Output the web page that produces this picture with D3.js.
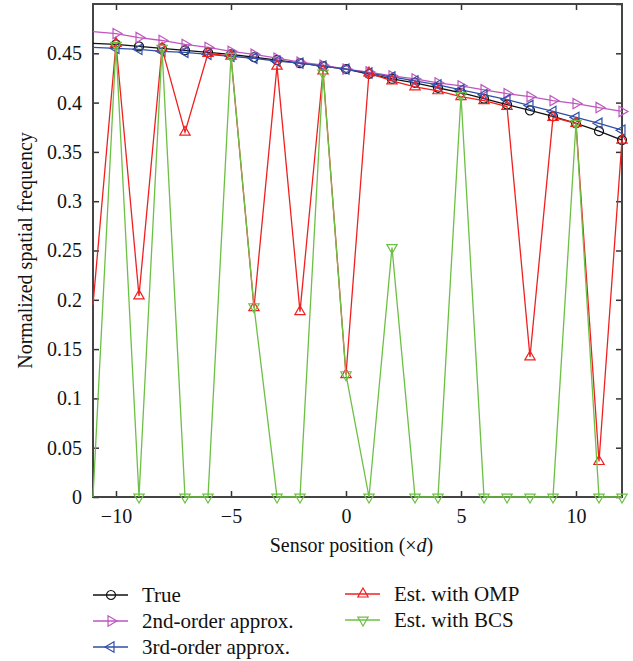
<!DOCTYPE html>
<html>
<head>
<meta charset="utf-8">
<script src="https://cdn.jsdelivr.net/npm/d3@7"></script>
<style>
  body { margin: 0; background: #fff; }
  svg text { font-family: "Liberation Serif", "DejaVu Serif", serif; fill: #111; }
</style>
</head>
<body>
<div id="chart"></div>
<script>
// sensor positions (x d)
var positions = [-11,-10,-9,-8,-7,-6,-5,-4,-3,-2,-1,0,1,2,3,4,5,6,7,8,9,10,11,12];

// normalized spatial frequency
var trueFreq = [0.460,0.459,0.457,0.455,0.453,0.451,0.449,0.446,0.443,0.440,0.437,0.434,0.429,0.424,0.420,0.415,0.410,0.404,0.398,0.392,0.386,0.379,0.371,0.362];
var secondOrder = [0.472,0.470,0.466,0.463,0.459,0.456,0.452,0.449,0.445,0.441,0.438,0.434,0.431,0.427,0.424,0.420,0.417,0.413,0.409,0.406,0.402,0.399,0.395,0.391];
var thirdOrder = [0.456,0.455,0.454,0.452,0.451,0.449,0.447,0.445,0.442,0.440,0.437,0.434,0.430,0.426,0.422,0.418,0.413,0.408,0.403,0.397,0.391,0.385,0.379,0.372];
var estOMP = [0.195,0.460,0.204,0.455,0.370,0.450,0.447,0.192,0.437,0.188,0.432,0.124,0.430,0.422,0.416,0.412,0.406,0.402,0.396,0.142,0.385,0.379,0.036,0.362];
var estBCS = [0,0.458,0,0.455,0,0,0.447,0.193,0,0,0.430,0.124,0,0.253,0,0,0.407,0,0,0,0,0.379,0,0];

var xTicks = [-10,-5,0,5,10];
var yTicks = [0,0.05,0.1,0.15,0.2,0.25,0.3,0.35,0.4,0.45,0.5];

var seriesNames = ["True","2nd-order approx.","3rd-order approx.","Est. with OMP","Est. with BCS"];
var seriesColors = ["#111111","#bf55bf","#2f4fa8","#f02020","#6cc044"];
var seriesMarkers = ["circle","right","left","up","down"];
var seriesValues = [trueFreq, secondOrder, thirdOrder, estOMP, estBCS];

var width = 633, height = 661;
var plotLeft = 93, plotRight = 622, plotTop = 4, plotBottom = 497;

var svg = d3.select("#chart").append("svg")
    .attr("width", width).attr("height", height);
svg.append("rect").attr("width", width).attr("height", height).attr("fill", "#fff");

var x = d3.scaleLinear().domain([-11, 12]).range([plotLeft, plotRight]);
var y = d3.scaleLinear().domain([0, 0.5]).range([plotBottom, plotTop]);

// ticks on all four sides, pointing inward
var tickLen = 6;
var fmtY = function(d) { return d === 0 ? "0" : String(+d.toFixed(2)); };

function styleAxis(g) {
  g.select(".domain").remove();
  g.selectAll("line").attr("stroke", "#333").attr("stroke-width", 1.5);
  g.selectAll("text").attr("font-size", 20).attr("fill", "#111")
    .attr("font-family", "Liberation Serif, serif");
}

svg.append("g").attr("transform", "translate(0," + plotBottom + ")")
    .call(d3.axisBottom(x).tickValues(xTicks).tickSizeInner(-tickLen).tickSizeOuter(0).tickPadding(12))
    .call(styleAxis);
svg.append("g").attr("transform", "translate(0," + plotTop + ")")
    .call(d3.axisTop(x).tickValues(xTicks).tickSizeInner(-tickLen).tickSizeOuter(0).tickFormat(""))
    .call(styleAxis);
svg.append("g").attr("transform", "translate(" + plotLeft + ",0)")
    .call(d3.axisLeft(y).tickValues(yTicks.slice(0, -1)).tickSizeInner(-tickLen).tickSizeOuter(0).tickPadding(11).tickFormat(fmtY))
    .call(styleAxis);
svg.append("g").attr("transform", "translate(" + plotRight + ",0)")
    .call(d3.axisRight(y).tickValues(yTicks).tickSizeInner(-tickLen).tickSizeOuter(0).tickFormat(""))
    .call(styleAxis);

// frame
svg.append("rect")
    .attr("x", plotLeft).attr("y", plotTop)
    .attr("width", plotRight - plotLeft).attr("height", plotBottom - plotTop)
    .attr("fill", "none").attr("stroke", "#444").attr("stroke-width", 2);

// marker shapes
var triSize = 46;
function markerPath(kind) {
  if (kind === "circle") return d3.symbol().type(d3.symbolCircle).size(64)();
  return d3.symbol().type(d3.symbolTriangle).size(triSize)();
}
function markerRotate(kind) {
  if (kind === "down") return 180;
  if (kind === "right") return 90;
  if (kind === "left") return -90;
  return 0;
}

var line = d3.line()
    .x(function(d) { return x(d.x); })
    .y(function(d) { return y(d.y); });

seriesValues.forEach(function(vals, i) {
  var pts = positions.map(function(p, j) { return { x: p, y: vals[j] }; });
  var g = svg.append("g");
  g.append("path").datum(pts)
      .attr("d", line)
      .attr("fill", "none")
      .attr("stroke", seriesColors[i])
      .attr("stroke-width", 1.3);
  // markers at the left edge are not shown in the figure
  g.selectAll("path.mk").data(pts.filter(function(d) { return d.x > -11; }))
    .enter().append("path")
      .attr("class", "mk")
      .attr("d", markerPath(seriesMarkers[i]))
      .attr("transform", function(d) {
        return "translate(" + x(d.x) + "," + y(d.y) + ") rotate(" + markerRotate(seriesMarkers[i]) + ")";
      })
      .attr("fill", "none")
      .attr("stroke", seriesColors[i])
      .attr("stroke-width", 1.2);
});

// axis titles
svg.append("text")
    .attr("x", (plotLeft + plotRight) / 2 - 6).attr("y", 552)
    .attr("text-anchor", "middle")
    .attr("font-size", 20)
    .html('Sensor position (×<tspan font-style="italic">d</tspan>)');

svg.append("text")
    .attr("transform", "translate(32," + ((plotTop + plotBottom) / 2) + ") rotate(-90)")
    .attr("text-anchor", "middle")
    .attr("font-size", 20)
    .text("Normalized spatial frequency");

// legend
var legendPos = [
  { lx: 93, ly: 595 }, { lx: 93, ly: 621 }, { lx: 93, ly: 647 },
  { lx: 345, ly: 594 }, { lx: 345, ly: 620 }
];
seriesNames.forEach(function(name, i) {
  var p = legendPos[i];
  var lg = svg.append("g").attr("transform", "translate(" + p.lx + "," + p.ly + ")");
  lg.append("line").attr("x1", 0).attr("x2", 35).attr("y1", 0).attr("y2", 0)
    .attr("stroke", seriesColors[i]).attr("stroke-width", 1.3);
  lg.append("path")
    .attr("d", markerPath(seriesMarkers[i]))
    .attr("transform", "translate(18,0) rotate(" + markerRotate(seriesMarkers[i]) + ")")
    .attr("fill", "none").attr("stroke", seriesColors[i]).attr("stroke-width", 1.2);
  lg.append("text").attr("x", 49).attr("y", 7)
    .attr("font-size", 21)
    .text(name);
});
</script>
</body>
</html>
